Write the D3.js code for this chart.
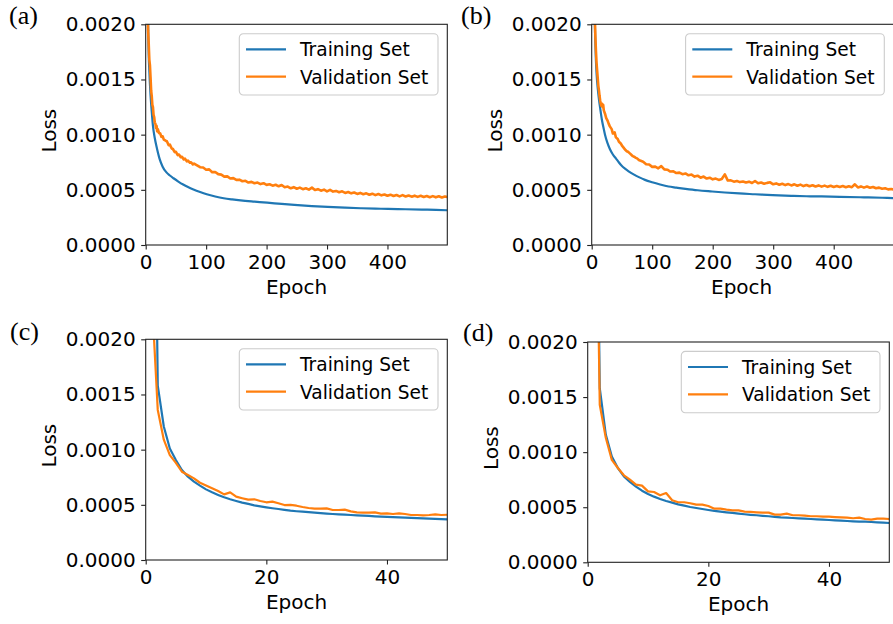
<!DOCTYPE html>
<html>
<head>
<meta charset="utf-8">
<script src="https://cdn.jsdelivr.net/npm/d3@7"></script>
<style>
 body { margin: 0; background: #fff; }
 svg text { font-family: "DejaVu Sans", sans-serif; }
</style>
</head>
<body>
<svg id="fig" width="893" height="624"></svg>
<script>
// loss values are written in units of 1e-4
var UNIT = 1e-4;
var lossTicks = [0, 5, 10, 15, 20];
var longTicks = [0, 100, 200, 300, 400];
var shortTicks = [0, 20, 40];
var seriesNames = ["Training Set", "Validation Set"];
var colors = ["#1f77b4", "#ff7f0e"];

// (a) and (b): 500 epochs
var trainEpochsA = [1,2,3,4,5,6,7,8,10,12,15,18,23,28,34,40,46,54,62,70,79,90,101,115,129,143,157,180,201,225,246,275,301,330,357,380,401,430,457,480,499];
var trainA = [80,40,26,20,17.2,15.8,14.6,13.6,12.1,10.8,9.7,8.9,7.8,7.1,6.6,6.3,6.05,5.75,5.48,5.25,5.03,4.8,4.6,4.4,4.24,4.13,4.04,3.93,3.84,3.72,3.63,3.53,3.45,3.38,3.33,3.3,3.27,3.24,3.21,3.18,3.15];

var trainEpochsB = [1,2,3,4,5,6,7,8,10,12,14,17,20,22,26,30,35,40,44,50,55,61,70,78,88,100,113,127,140,155,175,199,220,244,270,299,330,355,380,410,450,480,499];
var trainB = [60,40,30,24,20.5,18.3,16.7,15.6,14.2,13.2,12.4,11.3,10.5,10.0,9.25,8.7,8.2,7.85,7.55,7.15,6.92,6.68,6.38,6.15,5.9,5.68,5.48,5.3,5.2,5.09,4.96,4.85,4.76,4.67,4.6,4.52,4.46,4.42,4.4,4.37,4.32,4.28,4.25];

var valEpochsLong = [1,2,3,4,5,6,7,8,9,10,11,12,13,14,15,16,17,18,19,20,
 22,24,26,28,30,33,35,38,40,43,45,48,50,53,55,58,60,63,65,68,70,73,75,78,80,
 85,90,95,100,105,110,115,120,125,130,135,140,145,150,155,160,165,170,175,180,185,190,195,200,
 205,210,215,220,225,230,235,240,245,250,255,260,265,270,275,280,285,290,295,300,
 305,310,315,320,325,330,335,340,345,350,355,360,365,370,375,380,385,390,395,400,
 405,410,415,420,425,430,435,440,445,450,455,460,465,470,475,480,485,490,495,499];

var valA = [40,29,22,19.4,18.2,16.8,16.3,15.2,14.0,13.5,12.7,12.5,11.8,11.6,11.1,11.0,10.6,10.8,10.3,10.5,
 10.15,10.1,9.8,9.85,9.55,9.45,9.4,9.05,9.1,8.75,8.7,8.42,8.45,8.15,8.2,7.95,8.0,7.75,7.82,7.58,7.65,7.45,7.5,7.3,7.38,
 7.22,7.05,7.02,6.82,6.85,6.6,6.62,6.42,6.38,6.2,6.22,6.02,6.06,5.9,5.92,5.78,5.82,5.66,5.72,5.6,5.66,5.52,5.6,5.45,
 5.5,5.38,5.46,5.32,5.44,5.24,5.3,5.14,5.24,5.1,5.2,5.06,5.14,5.02,5.2,4.98,5.06,4.92,5.02,4.86,
 5.0,4.84,4.9,4.78,4.86,4.72,4.8,4.68,4.76,4.63,4.72,4.6,4.68,4.55,4.65,4.52,4.62,4.5,4.58,4.46,
 4.56,4.44,4.53,4.41,4.52,4.4,4.49,4.38,4.47,4.36,4.46,4.35,4.44,4.33,4.43,4.32,4.42,4.31,4.4,4.34];

var valB = [45,36,29,24,21,19,17.6,16.5,15.8,15.1,14.4,14.0,13.5,13.1,12.8,12.6,12.8,12.5,12.7,12.2,
 11.9,11.5,11.3,11.0,10.75,10.5,10.1,10.2,9.75,9.6,9.35,9.2,9.0,8.8,8.65,8.5,8.45,8.3,8.2,8.05,8.0,7.9,7.85,7.7,7.65,
 7.55,7.32,7.3,7.08,7.1,6.95,7.15,6.85,6.82,6.66,6.68,6.52,6.56,6.42,6.48,6.32,6.38,6.2,6.28,6.1,6.2,6.02,6.1,5.95,
 6.02,5.9,5.98,6.4,5.84,5.86,5.74,5.8,5.7,5.76,5.66,5.74,5.62,5.8,5.6,5.66,5.55,5.63,5.68,5.5,
 5.58,5.46,5.55,5.43,5.52,5.4,5.5,5.37,5.47,5.34,5.44,5.32,5.42,5.3,5.4,5.29,5.38,5.27,5.37,5.26,
 5.35,5.25,5.34,5.24,5.33,5.24,5.5,5.22,5.31,5.2,5.3,5.19,5.26,5.14,5.2,5.1,5.14,5.04,5.08,5.02];

// (c) and (d): 50 epochs
var epochsShort = [1,2,3,4,5,6,7,8,9,10,11,12,13,14,15,16,17,18,19,20,21,22,23,24,25,
 26,27,28,29,30,31,32,33,34,35,36,37,38,39,40,41,42,43,44,45,46,47,48,49,50];

var trainC = [60,15.8,12.1,10.1,9.06,8.16,7.55,7.1,6.74,6.4,6.13,5.9,5.68,5.5,5.35,5.2,5.08,4.95,4.86,4.77,4.69,4.62,4.54,4.47,4.42,
 4.38,4.33,4.29,4.24,4.2,4.17,4.14,4.11,4.08,4.05,4.02,3.99,3.96,3.93,3.9,3.88,3.86,3.84,3.81,3.79,3.77,3.75,3.73,3.71,3.68];
var valC = [24,13.6,10.9,9.5,8.8,8.0,7.7,7.4,7.0,6.75,6.5,6.25,5.95,6.13,5.74,5.6,5.47,5.5,5.35,5.23,5.29,5.14,4.98,5.0,4.92,
 4.8,4.71,4.65,4.65,4.68,4.53,4.53,4.56,4.41,4.32,4.29,4.29,4.32,4.2,4.23,4.17,4.23,4.17,4.08,4.08,4.05,4.08,4.14,4.08,4.1];

var trainD = [60,15.8,11.6,9.6,8.56,7.8,7.3,6.87,6.5,6.2,5.96,5.75,5.57,5.42,5.26,5.14,5.02,4.93,4.84,4.75,4.67,4.6,4.54,4.48,4.42,
 4.36,4.31,4.27,4.22,4.18,4.13,4.08,4.05,4.02,3.99,3.96,3.93,3.9,3.87,3.84,3.81,3.78,3.75,3.72,3.7,3.69,3.66,3.63,3.6,3.57];
var valD = [50,14.3,11.3,9.3,8.56,7.9,7.5,7.05,6.96,6.44,6.38,6.08,6.29,5.63,5.45,5.45,5.36,5.23,5.23,5.11,4.87,4.87,4.78,4.72,4.72,
 4.6,4.57,4.54,4.51,4.51,4.33,4.33,4.42,4.27,4.27,4.24,4.18,4.18,4.15,4.15,4.11,4.08,4.05,4.0,4.05,3.93,3.87,3.96,3.96,3.93];

var panels = [
 {label: "(a)", lx: 9, ly: 24, left: 145.7, right: 447.3, top: 24.3, bottom: 245, xmax: 499, xticks: longTicks,
  series: [{x: trainEpochsA, y: trainA, smooth: true}, {x: valEpochsLong, y: valA}]},
 {label: "(b)", lx: 461, ly: 24, left: 591.7, right: 893.6, top: 24.3, bottom: 245, xmax: 499, xticks: longTicks,
  series: [{x: trainEpochsB, y: trainB, smooth: true}, {x: valEpochsLong, y: valB}]},
 {label: "(c)", lx: 10, ly: 340, left: 145.7, right: 447.3, top: 339.3, bottom: 560, xmax: 50, xticks: shortTicks,
  series: [{x: epochsShort, y: trainC}, {x: epochsShort, y: valC}]},
 {label: "(d)", lx: 463, ly: 341, left: 587.7, right: 889.3, top: 342, bottom: 562.3, xmax: 50, xticks: shortTicks,
  series: [{x: epochsShort, y: trainD}, {x: epochsShort, y: valD}]}
];

var svg = d3.select("#fig");

panels.forEach(function(p, i) {
  var x = d3.scaleLinear().domain([0, p.xmax]).range([p.left, p.right]);
  var y = d3.scaleLinear().domain([0, 20]).range([p.bottom, p.top]);
  var g = svg.append("g");

  g.append("clipPath").attr("id", "clip" + i)
    .append("rect")
    .attr("x", p.left).attr("y", p.top)
    .attr("width", p.right - p.left).attr("height", p.bottom - p.top);

  // curves
  p.series.forEach(function(s, k) {
    var pts = d3.zip(s.x, s.y);
    var line = d3.line()
      .x(function(d) { return x(d[0]); })
      .y(function(d) { return y(d[1]); })
      .curve(s.smooth ? d3.curveMonotoneX : d3.curveLinear);
    g.append("path")
      .attr("clip-path", "url(#clip" + i + ")")
      .attr("d", line(pts))
      .attr("fill", "none")
      .attr("stroke", colors[k])
      .attr("stroke-width", k == 1 && p.xmax > 100 ? 2.6 : 2.2)
      .attr("stroke-linejoin", "round");
  });

  // frame
  g.append("rect")
    .attr("x", p.left).attr("y", p.top)
    .attr("width", p.right - p.left).attr("height", p.bottom - p.top)
    .attr("fill", "none").attr("stroke", "#222").attr("stroke-width", 1.1);

  var xa = g.append("g").attr("transform", "translate(0," + p.bottom + ")")
    .call(d3.axisBottom(x).tickValues(p.xticks).tickSize(4.5).tickPadding(5.5).tickSizeOuter(0));
  var ya = g.append("g").attr("transform", "translate(" + p.left + ",0)")
    .call(d3.axisLeft(y).tickValues(lossTicks).tickSize(4.5).tickPadding(5.5).tickSizeOuter(0)
      .tickFormat(function(d) { return (d * UNIT).toFixed(4); }));
  [xa, ya].forEach(function(a) {
    a.select(".domain").remove();
    a.attr("font-family", null).attr("font-size", 20);
    a.selectAll("line").attr("stroke", "#222").attr("stroke-width", 1.1);
    a.selectAll("text").attr("fill", "#000");
  });

  // axis titles
  g.append("text")
    .attr("x", (p.left + p.right) / 2 - (p.right > 890 ? 1 : 0))
    .attr("y", p.bottom + 49)
    .attr("text-anchor", "middle").attr("font-size", 20)
    .text("Epoch");
  g.append("text")
    .attr("transform", "translate(" + (p.left - 89.5) + "," + ((p.top + p.bottom) / 2 - 4) + ") rotate(-90)")
    .attr("text-anchor", "middle").attr("font-size", 20)
    .text("Loss");

  // panel letter
  g.append("text")
    .attr("x", p.lx).attr("y", p.ly)
    .style("font-family", '"Liberation Serif", "Times New Roman", serif')
    .attr("font-size", 26)
    .text(p.label);

  // legend
  var lw = 198.7, lh = 61.3;
  var lg = g.append("g")
    .attr("transform", "translate(" + (p.right - 9.3 - lw) + "," + (p.top + 9.4) + ")");
  lg.append("rect")
    .attr("width", lw).attr("height", lh).attr("rx", 4)
    .attr("fill", "#fff").attr("fill-opacity", 0.8)
    .attr("stroke", "#cccccc").attr("stroke-width", 1.1);
  seriesNames.forEach(function(name, k) {
    var cy = 15.6 + k * 27.4;
    lg.append("line")
      .attr("x1", 6.7).attr("x2", 46.7).attr("y1", cy).attr("y2", cy)
      .attr("stroke", colors[k]).attr("stroke-width", 2.2);
    lg.append("text")
      .attr("x", 60.7).attr("y", cy + 7)
      .attr("font-size", 18.6)
      .text(name);
  });
});
</script>
</body>
</html>
